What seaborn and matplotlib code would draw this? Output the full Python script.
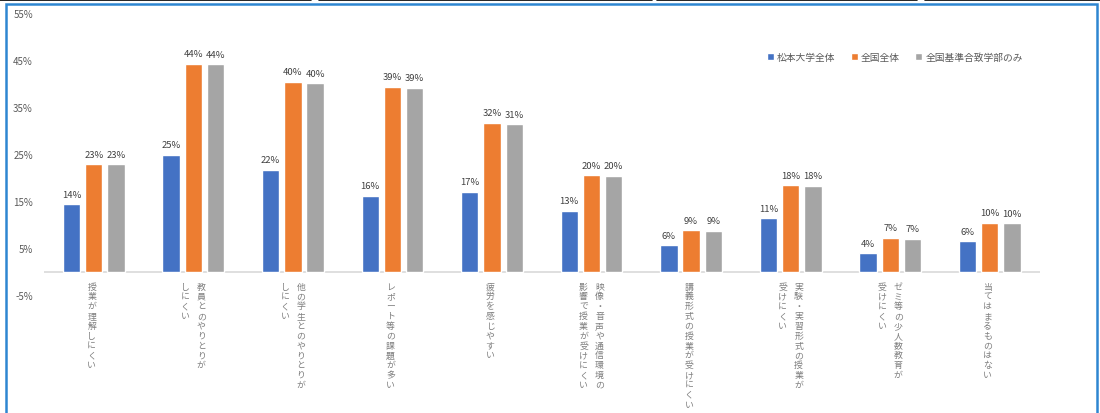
import matplotlib
matplotlib.use("Agg")
import matplotlib.pyplot as plt
import matplotlib.transforms as mtransforms
import seaborn as sns
import pandas as pd

# ---- data ----
categories = [
    ["授業が理解しにくい"],
    ["教員とのやりとりが", "しにくい"],
    ["他の学生とのやりとりが", "しにくい"],
    ["レポート等の課題が多い"],
    ["疲労を感じやすい"],
    ["映像・音声や通信環境の", "影響で授業が受けにくい"],
    ["講義形式の授業が受けにくい"],
    ["実験・実習形式の授業が", "受けにくい"],
    ["ゼミ等の少人数教育が", "受けにくい"],
    ["当てはまるものはない"],
]
series_names = ["松本大学全体", "全国全体", "全国基準合致学部のみ"]
matsumoto = [14.3, 24.8, 21.7, 16.1, 17.0, 12.9, 5.6, 11.3, 3.9, 6.4]
national = [22.8, 44.2, 40.4, 39.3, 31.6, 20.5, 8.8, 18.4, 7.2, 10.4]
national_std = [22.8, 44.1, 40.1, 39.1, 31.3, 20.4, 8.7, 18.3, 7.0, 10.3]
yticks = [-5, 5, 15, 25, 35, 45, 55]
colors = ["#4472C4", "#ED7D31", "#A5A5A5"]

cat_keys = ["\n".join(c) for c in categories]
rows = []
for name, vals in zip(series_names, [matsumoto, national, national_std]):
    for k, v in zip(cat_keys, vals):
        rows.append({"cat": k, "series": name, "value": v})
df = pd.DataFrame(rows)

sns.set_theme(style="white")
plt.rcParams["font.family"] = ["Noto Sans CJK JP", "DejaVu Sans"]

fig = plt.figure(figsize=(11, 4.14), dpi=100)
ax = fig.add_axes([0.040, 0.285, 0.905, 0.681])

sns.barplot(data=df, x="cat", y="value", hue="series", order=cat_keys,
            hue_order=series_names, palette=colors, width=0.67, gap=0.22,
            saturation=1, ax=ax, errorbar=None, legend=True)

ax.set_ylim(-5, 55)
ax.set_xlim(-0.5, len(categories) - 0.5)
ax.set_yticks(yticks)
ax.set_yticklabels([f"{t}%" for t in yticks], fontsize=7, color="#595959")
ax.tick_params(axis="y", length=0, pad=8)
ax.set_xticks(range(len(categories)))
ax.set_xticklabels([])
ax.tick_params(axis="x", length=0)
ax.set_xlabel("")
ax.set_ylabel("")
for s in ax.spines.values():
    s.set_visible(False)
ax.axhline(0, color="#D9D9D9", lw=1.2, zorder=0)

for cont in ax.containers:
    ax.bar_label(cont, labels=[f"{round(b.get_height())}%" for b in cont],
                 fontsize=6.8, color="#404040", padding=4)

# vertical category labels (columns right-to-left)
for i, cols in enumerate(categories):
    n = len(cols)
    for j, col in enumerate(cols):
        off = (n - 1) / 2 * 16 - j * 16 if n > 1 else -2
        t = ax.text(i, 0, "\n".join(col), ha="center", va="top",
                    fontsize=6.4, color="#7F7F7F", linespacing=1.12)
        t.set_transform(ax.transData + mtransforms.ScaledTranslation(off / 100, -10 / 100, fig.dpi_scale_trans))

leg = ax.legend(loc="center right", bbox_to_anchor=(0.987, 0.844), ncol=3, frameon=False,
                fontsize=7, handlelength=0.7, handleheight=0.7, handletextpad=0.3,
                columnspacing=1.6, borderaxespad=0)
for txt in leg.get_texts():
    txt.set_color("#595959")

# outer frame and top remnants
fig.patches.append(plt.Rectangle((6 / 1100, -0.01), 1091 / 1100, 1 - 5 / 414 + 0.01,
                                 transform=fig.transFigure, fill=False,
                                 edgecolor="#2E86D1", lw=1.8))
for x0, x1 in [(0, 311), (319, 652), (657, 917), (925, 1100)]:
    fig.add_artist(plt.Line2D([x0 / 1100, x1 / 1100], [1 - 1.2 / 414] * 2,
                              transform=fig.transFigure, color="black", lw=1.2))

fig.savefig("out.png", dpi=100)
